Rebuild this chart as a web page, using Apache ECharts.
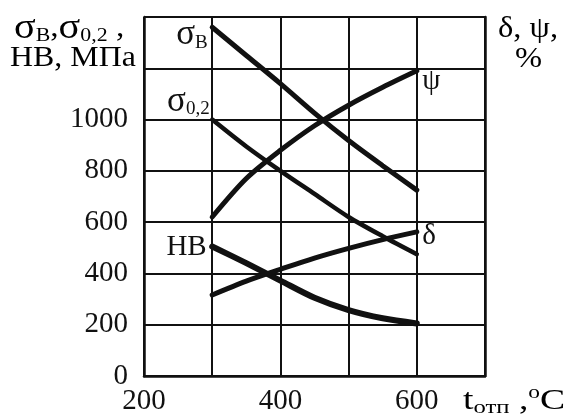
<!DOCTYPE html>
<html>
<head>
<meta charset="utf-8">
<script src="https://cdn.jsdelivr.net/npm/echarts@6/dist/echarts.min.js"></script>
<style>
  html, body { margin: 0; padding: 0; background: #fff; }
  #main { width: 571px; height: 416px; }
</style>
</head>
<body>
<div id="main"></div>
<script>
// температура отпуска, °C
const temps = [300, 350, 400, 450, 500, 550, 600];
// прочность, МПа (левая ось)
const sigmaB = [1360, 1250, 1140, 1025, 918, 820, 725];
const sigma02 = [1000, 895, 800, 710, 620, 545, 475];
const hb = [505, 440, 372, 305, 257, 225, 205];
// пластичность, % (правая ось)
const psi = [31, 38.5, 44, 48.8, 52.8, 56.3, 59.5];
const delta = [15.8, 18.5, 20.8, 23, 24.9, 26.6, 28.1];

const xTicks = [200, 300, 400, 500, 600, 700];
const xTickLabels = ['200', '', '400', '', '600', ''];
const yTicks = [0, 200, 400, 600, 800, 1000, 1200, 1400];
const yTickLabels = ['0', '200', '400', '600', '800', '1000', '', ''];

const FONT = 'Liberation Serif';
const INK = '#111';

const rich = {
  a: { fontFamily: FONT, fontSize: 29, color: INK, lineHeight: 34 },
  s: { fontFamily: FONT, fontSize: 35, color: INK, lineHeight: 34 },
  b: { fontFamily: FONT, fontSize: 19, color: INK, lineHeight: 17, verticalAlign: 'bottom' },
  o: { fontFamily: FONT, fontSize: 18, color: INK, lineHeight: 18, verticalAlign: 'top' }
};

// точки кривой, подпись только у одной из них
function points(ys, labelAt, label) {
  return temps.map((t, i) => i === labelAt
    ? { value: [t, ys[i]], label: Object.assign({ show: true, rich: rich }, label) }
    : [t, ys[i]]);
}

function curve(name, ys, axis, width, labelAt, label) {
  return {
    name: name,
    type: 'line',
    yAxisIndex: axis,
    smooth: 0.3,
    showSymbol: true,
    symbol: 'circle',
    symbolSize: 1,
    itemStyle: { color: INK },
    lineStyle: { color: INK, width: width, cap: 'round' },
    label: { show: false },
    data: points(ys, labelAt, label)
  };
}

let myChart = echarts.init(document.getElementById('main'));
myChart.setOption({
  animation: false,
  backgroundColor: '#fff',
  grid: { left: 144, right: 86, top: 17, bottom: 37 },
  xAxis: {
    type: 'value',
    min: 200,
    max: 700,
    interval: 100,
    axisLine: { lineStyle: { color: INK, width: 2.5 } },
    axisTick: { show: false },
    splitLine: { lineStyle: { color: INK, width: 2 } },
    axisLabel: {
      fontFamily: FONT, fontSize: 29, color: INK, margin: 11,
      formatter: v => xTickLabels[xTicks.indexOf(v)] || ''
    }
  },
  yAxis: [{
    type: 'value',
    min: 0,
    max: 1400,
    interval: 200,
    axisLine: { show: true, lineStyle: { color: INK, width: 2.5 } },
    axisTick: { show: false },
    splitLine: { lineStyle: { color: INK, width: 2 } },
    axisLabel: {
      fontFamily: FONT, fontSize: 29, color: INK, margin: 16,
      formatter: v => yTickLabels[yTicks.indexOf(v)] || ''
    }
  }, {
    type: 'value',
    position: 'right',
    min: 0,
    max: 70,
    interval: 10,
    axisLine: { show: true, lineStyle: { color: INK, width: 2.5 } },
    axisTick: { show: false },
    axisLabel: { show: false },
    splitLine: { show: false }
  }],
  series: [
    curve('σв', sigmaB, 0, 5, 0, { position: 'left', distance: 4, offset: [0, 8], formatter: '{s|σ}{b|В}' }),
    curve('σ0,2', sigma02, 0, 4.5, 0, { position: 'left', distance: 2, offset: [0, -18], formatter: '{s|σ}{b|0,2}' }),
    curve('HB', hb, 0, 6, 0, { position: 'left', distance: 5, offset: [0, 1], formatter: '{a|HB}' }),
    curve('ψ', psi, 1, 5, temps.length - 1, { position: 'right', distance: 5, offset: [0, 11], formatter: '{a|ψ}' }),
    curve('δ', delta, 1, 5, temps.length - 1, { position: 'right', distance: 5, offset: [0, 5], formatter: '{a|δ}' })
  ],
  graphic: [
    { type: 'text', left: 14, top: 11, scaleX: 1.15, style: { text: '{s|σ}{b|В}{a|,}{s|σ}{b|0,2}{a| ,}', rich: rich } },
    { type: 'text', left: 10, top: 44, scaleX: 1.1, style: { text: '{a|HB, МПа}', rich: rich } },
    { type: 'text', left: 498, top: 15, scaleX: 1.12, style: { text: '{a|δ, ψ,}', rich: rich } },
    { type: 'text', left: 515, top: 45, scaleX: 1.12, style: { text: '{a|%}', rich: rich } },
    { type: 'text', left: 463, top: 384, scaleX: 1.3, style: { text: '{a|t}{b|отп}{a| ,}{o|o}{a|C}', rich: rich } }
  ]
});
</script>
</body>
</html>
